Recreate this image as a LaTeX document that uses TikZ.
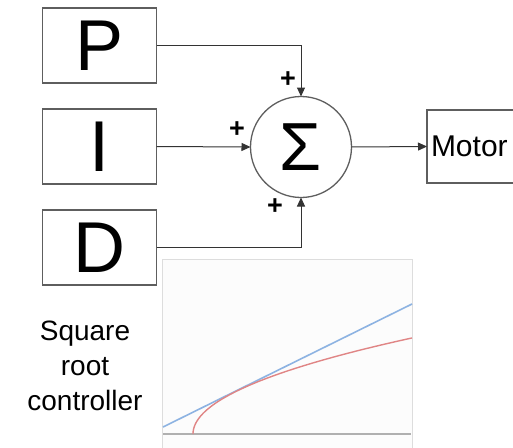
\documentclass[tikz,border=0pt]{standalone}
\usepackage{fontspec}
\setmainfont{Liberation Sans}
\usetikzlibrary{arrows.meta}
\definecolor{edgegray}{HTML}{5E5E5E}
\definecolor{linegray}{HTML}{333333}
\definecolor{panelfill}{HTML}{FCFCFC}
\definecolor{paneledge}{HTML}{DDDDDD}
\definecolor{axisgray}{HTML}{B0B0B0}
\definecolor{lineblue}{HTML}{8DB3E2}
\definecolor{curvered}{HTML}{E08585}
\begin{document}
\begin{tikzpicture}[x=1pt,y=-1pt,
  blk/.style={draw=edgegray, line width=1.3pt, minimum width=114pt, minimum height=75pt, inner sep=0pt, outer sep=0pt, font=\fontsize{72}{72}\selectfont},
  conn/.style={draw=linegray, line width=1pt, -{Triangle[length=9pt,width=8pt]}},
  pm/.style={font=\fontsize{27}{27}\selectfont\bfseries, inner sep=0pt}]
\clip (0,0) rectangle (513,447);
\useasboundingbox (0,0) rectangle (513,447);
\fill[white] (0,0) rectangle (513,447);
% blocks
\node[blk] (P) at (99.5,45.5) {P};
\node[blk] (I) at (99.5,146.5) {I};
\node[blk] (D) at (99.5,247.5) {D};
\node[draw=edgegray, line width=1.3pt, circle, minimum size=101pt, inner sep=0pt, outer sep=0pt,
      font=\fontsize{68}{68}\selectfont] (S) at (301,147) {Σ};
\node[draw=edgegray, line width=1.3pt, anchor=west, minimum height=73pt, text width=85pt,
      inner xsep=4pt, inner ysep=0pt, outer sep=0pt, align=left,
      font=\fontsize{30}{30}\selectfont] (M) at (427,146.5) {Motor};
% connectors
\draw[conn] (P.east) -| (S.north);
\draw[conn] (I.east) -- (S.west);
\draw[conn] (D.east) -| (S.south);
\draw[conn] (S.east) -- (M.west);
% signs
\node[pm] (p1) at (288,80) {+};
\node[pm] (p2) at (237,130) {+};
\node[pm] (p3) at (275,207) {+};
% panel
\draw[fill=panelfill, draw=paneledge, line width=1pt] (162,259) rectangle (412,452);
\draw[axisgray, line width=2.2pt] (163,434) -- (411,434);
\draw[lineblue, line width=1.6pt] (163,427) -- (412,304);
\draw[curvered, line width=1.4pt, variable=\t, domain=0:14.8, samples=80, smooth]
  plot ({193+\t*\t},{434-6.49*\t});
% caption
\node[align=center, font=\fontsize{28}{35}\selectfont] (cap) at (85,366) {Square\\root\\controller};
\end{tikzpicture}
\end{document}
